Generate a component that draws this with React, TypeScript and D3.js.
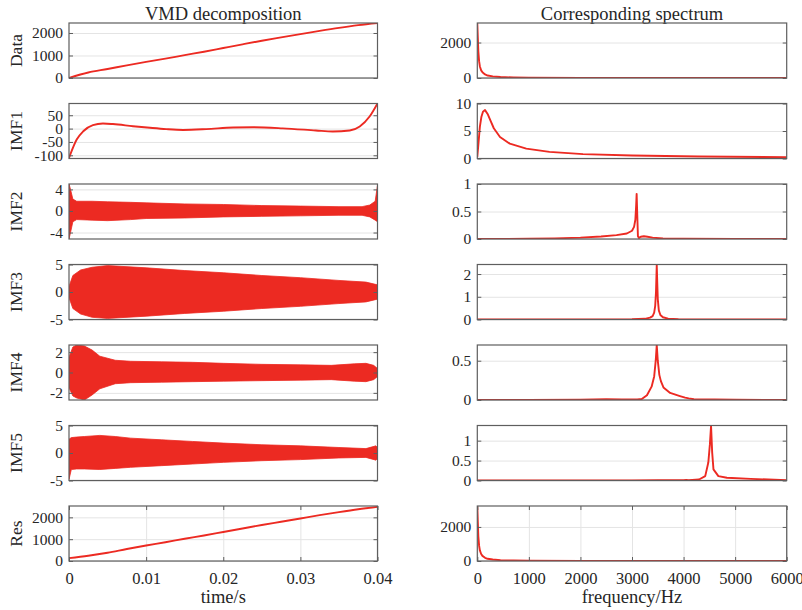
import React, { useRef, useEffect } from 'react';
import * as d3 from 'd3';

const RED = '#ec2a22';
const BOX = '#5e5e5e';
const GRID = '#e4e4e4';
const TXT = '#262626';
const FONT = 'Liberation Serif, Times New Roman, serif';

const rowLabels = ['Data', 'IMF1', 'IMF2', 'IMF3', 'IMF4', 'IMF5', 'Res'];
const timeTicks = [0, 0.01, 0.02, 0.03, 0.04];
const freqTicks = [0, 1000, 2000, 3000, 4000, 5000, 6000];

// ---- time domain, smooth signals ----
const tGrid = [0, 0.0025, 0.005, 0.0075, 0.01, 0.0125, 0.015, 0.0175, 0.02, 0.0225, 0.025, 0.0275, 0.03, 0.0325, 0.035, 0.0375, 0.04];
const dataSignal = [0, 245, 400, 563, 715, 859, 1016, 1168, 1333, 1497, 1656, 1803, 1947, 2093, 2230, 2350, 2444];
const resSignal = [130, 240, 380, 550, 710, 860, 1020, 1170, 1330, 1490, 1650, 1800, 1950, 2100, 2240, 2370, 2480];

const imf1T = [0, 0.001, 0.00185, 0.0031, 0.0044, 0.0057, 0.0083, 0.0105, 0.0126, 0.0148, 0.0178, 0.0213, 0.0239, 0.0277, 0.032, 0.0342, 0.0364, 0.0377, 0.039, 0.04];
const imf1Vals = [-110, -41, -10, 13, 19, 17, 9, 3, -2, -5, -2, 4, 5, 1, -7, -11, -7, 8, 46, 94];

// ---- oscillating modes, envelopes ----
const imf2T = [0, 0.0002, 0.0005, 0.001, 0.003, 0.005, 0.008, 0.01, 0.015, 0.02, 0.025, 0.03, 0.035, 0.038, 0.039, 0.0397, 0.04];
const imf2Upper = [5, 4, 2.2, 1.8, 1.8, 1.7, 1.6, 1.5, 1.3, 1.2, 1.0, 0.9, 0.8, 0.8, 1.1, 1.8, 4.8];
const imf2Lower = [-5.2, -4, -2.0, -1.6, -1.7, -1.8, -1.6, -1.4, -1.3, -1.1, -1.0, -0.9, -0.8, -0.8, -1.1, -1.7, -2.0];

const imf3T = [0, 0.0005, 0.0015, 0.003, 0.005, 0.01, 0.015, 0.02, 0.025, 0.03, 0.035, 0.0385, 0.04];
const imf3Upper = [1.0, 3.0, 4.0, 4.5, 4.8, 4.4, 3.9, 3.5, 3.0, 2.6, 2.1, 1.8, 1.3];
const imf3Lower = [-1.0, -3.0, -4.0, -4.6, -4.8, -4.4, -3.9, -3.5, -3.0, -2.6, -2.1, -1.8, -1.3];

const imf4T = [0, 0.0005, 0.001, 0.002, 0.003, 0.004, 0.006, 0.008, 0.012, 0.016, 0.02, 0.025, 0.03, 0.034, 0.037, 0.0385, 0.0395, 0.04];
const imf4Upper = [1.5, 2.5, 2.7, 2.6, 2.2, 1.6, 1.2, 1.1, 1.05, 1.0, 0.9, 0.8, 0.75, 0.7, 0.85, 0.9, 0.7, 0.4];
const imf4Lower = [-1.5, -2.3, -2.5, -2.7, -2.2, -1.6, -1.1, -1.0, -0.95, -0.9, -0.85, -0.8, -0.75, -0.7, -0.85, -0.9, -0.7, -0.4];

const imf5T = [0, 0.0003, 0.001, 0.002, 0.004, 0.006, 0.008, 0.012, 0.016, 0.02, 0.025, 0.03, 0.035, 0.0385, 0.0398, 0.04];
const imf5Upper = [2.5, 2.8, 2.9, 3.0, 3.2, 3.0, 2.7, 2.4, 2.1, 1.8, 1.5, 1.3, 1.0, 0.8, 1.3, 1.0];
const imf5Lower = [-4.8, -3.0, -2.9, -2.9, -3.0, -2.8, -2.6, -2.3, -2.0, -1.7, -1.4, -1.2, -0.9, -0.8, -1.3, -1.0];

// ---- spectra ----
const lowF = [0, 10, 20, 35, 50, 75, 100, 150, 200, 300, 450, 700, 1000, 2000, 4000, 6000];
const dataSpec = [3100, 2300, 1500, 950, 650, 430, 320, 200, 140, 90, 55, 30, 18, 8, 4, 2];
const resSpec = [3200, 2300, 1450, 900, 620, 410, 300, 190, 130, 85, 50, 28, 17, 8, 4, 2];

const imf1F = [0, 25, 50, 80, 110, 150, 200, 260, 320, 440, 630, 950, 1400, 2050, 3000, 4300, 6000];
const imf1Spec = [0.3, 3.0, 5.8, 7.6, 8.5, 8.8, 8.1, 6.8, 5.5, 3.9, 2.7, 1.8, 1.2, 0.8, 0.55, 0.36, 0.25];

const imf2F = [0, 500, 1000, 1500, 2000, 2400, 2700, 2900, 3000, 3040, 3065, 3080, 3090, 3100, 3115, 3135, 3170, 3230, 3300, 3400, 3600, 4000, 5000, 6000];
const imf2Spec = [0, 0.002, 0.005, 0.012, 0.025, 0.045, 0.07, 0.1, 0.15, 0.22, 0.35, 0.6, 0.82, 0.5, 0.05, 0.02, 0.04, 0.05, 0.04, 0.025, 0.01, 0.004, 0.001, 0];

const imf3F = [0, 2000, 3000, 3250, 3350, 3400, 3430, 3450, 3465, 3475, 3480, 3490, 3500, 3520, 3550, 3600, 3700, 3900, 4500, 6000];
const imf3Spec = [0, 0.002, 0.01, 0.03, 0.08, 0.15, 0.3, 0.6, 1.2, 2.0, 2.4, 1.6, 0.9, 0.4, 0.2, 0.1, 0.04, 0.015, 0.003, 0];

const imf4F = [0, 1000, 2000, 2500, 2800, 3100, 3190, 3290, 3380, 3430, 3460, 3480, 3500, 3530, 3560, 3610, 3740, 3930, 4030, 4100, 4200, 5000, 6000];
const imf4Spec = [0, 0.002, 0.005, 0.01, 0.008, 0.006, 0.012, 0.06, 0.17, 0.3, 0.5, 0.7, 0.5, 0.32, 0.24, 0.16, 0.09, 0.05, 0.03, 0.02, 0.01, 0.003, 0];

const imf5F = [0, 2000, 3000, 3500, 4000, 4050, 4100, 4300, 4420, 4480, 4510, 4533, 4555, 4580, 4675, 4840, 5300, 6000];
const imf5Spec = [0, 0.002, 0.004, 0.006, 0.008, 0.015, 0.01, 0.025, 0.11, 0.45, 0.9, 1.37, 0.7, 0.28, 0.11, 0.07, 0.04, 0.01];

type Panel = {
  domain: [number, number];
  ticks: number[];
  xs: number[];
  ys?: number[];
  upper?: number[];
  lower?: number[];
};

const leftPanels: Panel[] = [
  { domain: [0, 2444], ticks: [0, 1000, 2000], xs: tGrid, ys: dataSignal },
  { domain: [-112, 94], ticks: [-100, -50, 0, 50], xs: imf1T, ys: imf1Vals },
  { domain: [-5.2, 5], ticks: [-4, 0, 4], xs: imf2T, upper: imf2Upper, lower: imf2Lower },
  { domain: [-5, 5], ticks: [-5, 0, 5], xs: imf3T, upper: imf3Upper, lower: imf3Lower },
  { domain: [-2.7, 2.7], ticks: [-2, 0, 2], xs: imf4T, upper: imf4Upper, lower: imf4Lower },
  { domain: [-5, 5], ticks: [-5, 0, 5], xs: imf5T, upper: imf5Upper, lower: imf5Lower },
  { domain: [0, 2520], ticks: [0, 1000, 2000], xs: tGrid, ys: resSignal },
];

const rightPanels: Panel[] = [
  { domain: [0, 3100], ticks: [0, 2000], xs: lowF, ys: dataSpec },
  { domain: [0, 10], ticks: [0, 5, 10], xs: imf1F, ys: imf1Spec },
  { domain: [0, 1], ticks: [0, 0.5, 1], xs: imf2F, ys: imf2Spec },
  { domain: [0, 2.42], ticks: [0, 1, 2], xs: imf3F, ys: imf3Spec },
  { domain: [0, 0.7], ticks: [0, 0.5], xs: imf4F, ys: imf4Spec },
  { domain: [0, 1.38], ticks: [0, 0.5, 1], xs: imf5F, ys: imf5Spec },
  { domain: [0, 3230], ticks: [0, 2000], xs: lowF, ys: resSpec },
];

export default function App() {
  const ref = useRef<SVGSVGElement>(null);

  useEffect(() => {
    const svg = d3.select(ref.current);
    svg.selectAll('*').remove();
    svg.attr('font-family', FONT);

    const width = 802, height = 610;
    const cols = [[69, 377.5], [477.3, 786.7]];
    const top0 = 23, step = 80.5, ph = 55;

    svg.append('rect').attr('width', width).attr('height', height).attr('fill', '#fff');

    // Column titles
    svg.append('text')
      .attr('x', (cols[0][0] + cols[0][1]) / 2).attr('y', 20)
      .attr('text-anchor', 'middle').attr('font-size', 18.5).attr('fill', TXT)
      .text('VMD decomposition');
    svg.append('text')
      .attr('x', (cols[1][0] + cols[1][1]) / 2).attr('y', 20)
      .attr('text-anchor', 'middle').attr('font-size', 18.5).attr('fill', TXT)
      .text('Corresponding spectrum');

    const defs = svg.append('defs');

    rowLabels.forEach((label, i) => {
      const y0 = top0 + i * step;
      const last = i === rowLabels.length - 1;

      [leftPanels[i], rightPanels[i]].forEach((p, c) => {
        const [x0, x1] = cols[c];
        const x = d3.scaleLinear()
          .domain(c === 0 ? [0, 0.04] : [0, 6000])
          .range([x0, x1]);
        const y = d3.scaleLinear().domain(p.domain).range([y0 + ph, y0]);
        const g = svg.append('g');

        // Grid
        g.append('g')
          .attr('transform', `translate(${x0},0)`)
          .call(d3.axisLeft(y).tickValues(p.ticks).tickSize(-(x1 - x0)).tickFormat(() => ''))
          .call(s => s.select('.domain').remove())
          .selectAll('line').attr('stroke', GRID);
        if (last) {
          g.append('g')
            .attr('transform', `translate(0,${y0 + ph})`)
            .call(d3.axisBottom(x).tickValues(c === 0 ? timeTicks : freqTicks).tickSize(-ph).tickFormat(() => ''))
            .call(s => s.select('.domain').remove())
            .selectAll('line').attr('stroke', GRID);
        }

        // Clip
        const id = `clip-${i}-${c}`;
        defs.append('clipPath').attr('id', id)
          .append('rect').attr('x', x0).attr('y', y0).attr('width', x1 - x0).attr('height', ph);
        const plot = g.append('g').attr('clip-path', `url(#${id})`);

        const idx = d3.range(p.xs.length);
        if (p.upper && p.lower) {
          plot.append('path')
            .datum(idx)
            .attr('fill', RED)
            .attr('stroke', RED)
            .attr('stroke-width', 0.8)
            .attr('d', d3.area<number>()
              .x(k => x(p.xs[k]))
              .y0(k => y(p.lower![k]))
              .y1(k => y(p.upper![k]))
            );
        } else if (p.ys) {
          plot.append('path')
            .datum(idx)
            .attr('fill', 'none')
            .attr('stroke', RED)
            .attr('stroke-width', 1.9)
            .attr('stroke-linejoin', 'round')
            .attr('d', d3.line<number>()
              .x(k => x(p.xs[k]))
              .y(k => y(p.ys![k]))
              .curve(c === 0 ? d3.curveMonotoneX : d3.curveLinear)
            );
        }

        // Box
        g.append('rect')
          .attr('x', x0).attr('y', y0).attr('width', x1 - x0).attr('height', ph)
          .attr('fill', 'none').attr('stroke', BOX).attr('stroke-width', 1.2);

        // Y ticks, inside, both sides
        const ya = g.append('g')
          .attr('transform', `translate(${x0},0)`)
          .call(d3.axisLeft(y).tickValues(p.ticks).tickSize(-4).tickPadding(6).tickFormat(d => String(d)));
        ya.attr('font-family', FONT).attr('font-size', 15.5);
        ya.select('.domain').remove();
        ya.selectAll('line').attr('stroke', BOX);
        ya.selectAll('text').attr('fill', TXT);

        const yr = g.append('g')
          .attr('transform', `translate(${x1},0)`)
          .call(d3.axisRight(y).tickValues(p.ticks).tickSize(-4).tickFormat(() => ''));
        yr.select('.domain').remove();
        yr.selectAll('line').attr('stroke', BOX);

        if (last) {
          const xa = g.append('g')
            .attr('transform', `translate(0,${y0 + ph})`)
            .call(d3.axisBottom(x).tickValues(c === 0 ? timeTicks : freqTicks).tickSize(-4).tickPadding(11).tickFormat(d => String(d)));
          xa.attr('font-family', FONT).attr('font-size', 16.5);
          xa.select('.domain').remove();
          xa.selectAll('line').attr('stroke', BOX);
          xa.selectAll('text').attr('fill', TXT);

          const xt = g.append('g')
            .attr('transform', `translate(0,${y0})`)
            .call(d3.axisTop(x).tickValues(c === 0 ? timeTicks : freqTicks).tickSize(-4).tickFormat(() => ''));
          xt.select('.domain').remove();
          xt.selectAll('line').attr('stroke', BOX);

          svg.append('text')
            .attr('x', (x0 + x1) / 2).attr('y', 603)
            .attr('text-anchor', 'middle').attr('font-size', 18.5).attr('fill', TXT)
            .text(c === 0 ? 'time/s' : 'frequency/Hz');
        }
      });

      // Row label
      svg.append('text')
        .attr('transform', `translate(22,${y0 + ph / 2}) rotate(-90)`)
        .attr('text-anchor', 'middle').attr('font-size', 17.5).attr('fill', TXT)
        .text(label);
    });
  }, []);

  return (
    <svg
      ref={ref}
      width={802}
      height={610}
      style={{ position: 'absolute', left: 0, top: 0, display: 'block' }}
    />
  );
}
